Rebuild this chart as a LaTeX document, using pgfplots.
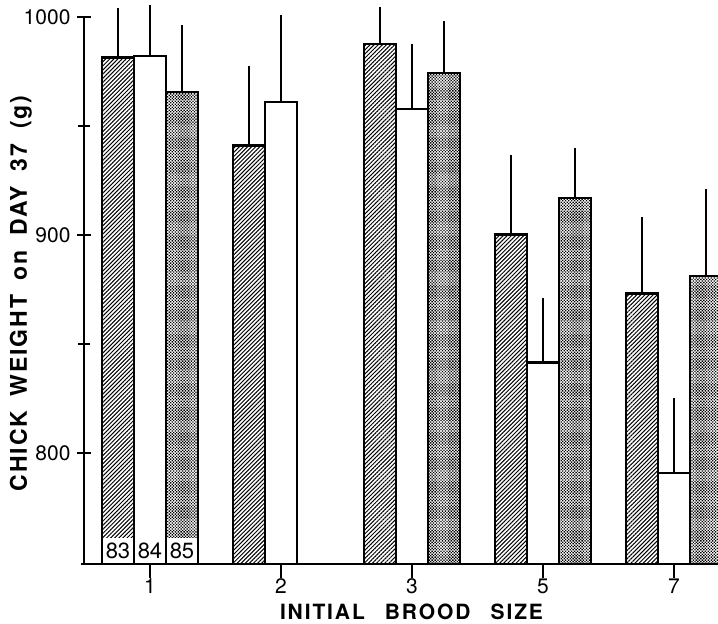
\documentclass[border=0pt]{standalone}
\usepackage{fontspec}
\setmainfont{TeX Gyre Heros}
\newfontfamily\xlabfont[LetterSpace=9,WordSpace=2.6]{TeX Gyre Heros}
\newfontfamily\ylabfont[LetterSpace=8,WordSpace=1.8]{TeX Gyre Heros}
\usepackage{pgfplots}
\pgfplotsset{compat=1.18}
\usetikzlibrary{patterns.meta}
\begin{document}
\begin{tikzpicture}
\begin{axis}[
  name=ax,
  scale only axis,
  width=316.75pt, height=282pt,
  xmin=-0.5, xmax=4.336,
  ymin=749.1, ymax=1007.8,
  axis lines*=left,
  axis line style={draw=none},
  xtick={0,1,2,3,4}, xticklabels={1,2,3,5,7},
  ytick={800,900,1000}, minor ytick={850,950},
  tick align=center,
  major tick length=7pt, minor tick length=6pt,
  tick style={line width=1pt, black},
  ybar, bar width=16pt,
  /pgf/number format/assume math mode=true,
  /pgf/number format/1000 sep={},
  ticklabel style={font=\fontsize{10.5}{12}\selectfont},
  xticklabel style={yshift=3pt},
  xlabel={INITIAL BROOD SIZE},
  ylabel={CHICK WEIGHT on DAY 37 (g)},
  xlabel style={at={([yshift=-28pt]axis description cs:0.5162,0)}, anchor=base,
    font=\xlabfont\fontsize{10.5}{12}\selectfont\bfseries},
  ylabel style={at={([xshift=-28.75pt,yshift=-5.75pt]axis description cs:0,0.5)}, anchor=base, rotate=0,
    font=\ylabfont\fontsize{11.5}{13}\selectfont\bfseries},
  error bars/y dir=plus, error bars/y explicit,
  error bars/error mark=none,
  error bars/error bar style={line width=1pt, solid, black},
]
% hatched series (83)
\addplot[draw=black, line width=1.2pt, bar shift=-16pt,
  pattern={Lines[angle=45,distance=1.45pt,line width=0.5pt]}]
  coordinates {(0,981.5) +- (0,22.5) (1,941) +- (0,36.7) (2,987.5) +- (0,17.2) (3,900.3) +- (0,36.4) (4,873.2) +- (0,35)};
% open series (84)
\addplot[draw=black, fill=white, line width=1.2pt, bar shift=0pt]
  coordinates {(0,982) +- (0,23.5) (1,960.9) +- (0,40) (2,957.8) +- (0,30) (3,841.6) +- (0,29.6) (4,790.9) +- (0,34.5)};
% stippled series (85)
\addplot[draw=black, line width=1.2pt, bar shift=16pt,
  pattern={Dots[distance=1.05pt,radius=0.48pt,angle=45]}]
  coordinates {(0,965.7) +- (0,30.6) (2,974.2) +- (0,24) (3,917.1) +- (0,23) (4,881.2) +- (0,40)};
\node[fill=white, inner sep=0pt, minimum width=14.6pt, minimum height=12.8pt, anchor=south,
  font=\fontsize{11}{12}\selectfont, xshift=-16pt] at (axis cs:0,749.1) {83};
\node[fill=white, inner sep=0pt, minimum width=14.6pt, minimum height=12.8pt, anchor=south,
  font=\fontsize{11}{12}\selectfont] at (axis cs:0,749.1) {84};
\node[fill=white, inner sep=0pt, minimum width=14.6pt, minimum height=12.8pt, anchor=south,
  font=\fontsize{11}{12}\selectfont, xshift=16pt] at (axis cs:0,749.1) {85};
\coordinate (ytop) at (axis cs:-0.5,1000);
\coordinate (orig) at (axis cs:-0.5,749.1);
\coordinate (xleft) at (axis cs:-0.53,749.1);
\coordinate (xright) at (axis cs:4.336,749.1);
\end{axis}
\draw[line width=1pt] (ytop) -- (orig);
\draw[line width=1pt] (xleft) -- (xright);
\pgfresetboundingbox
\path[use as bounding box] ([xshift=-42.25pt,yshift=-30pt]ax.south west) rectangle (ax.north east);
\end{tikzpicture}
\end{document}
